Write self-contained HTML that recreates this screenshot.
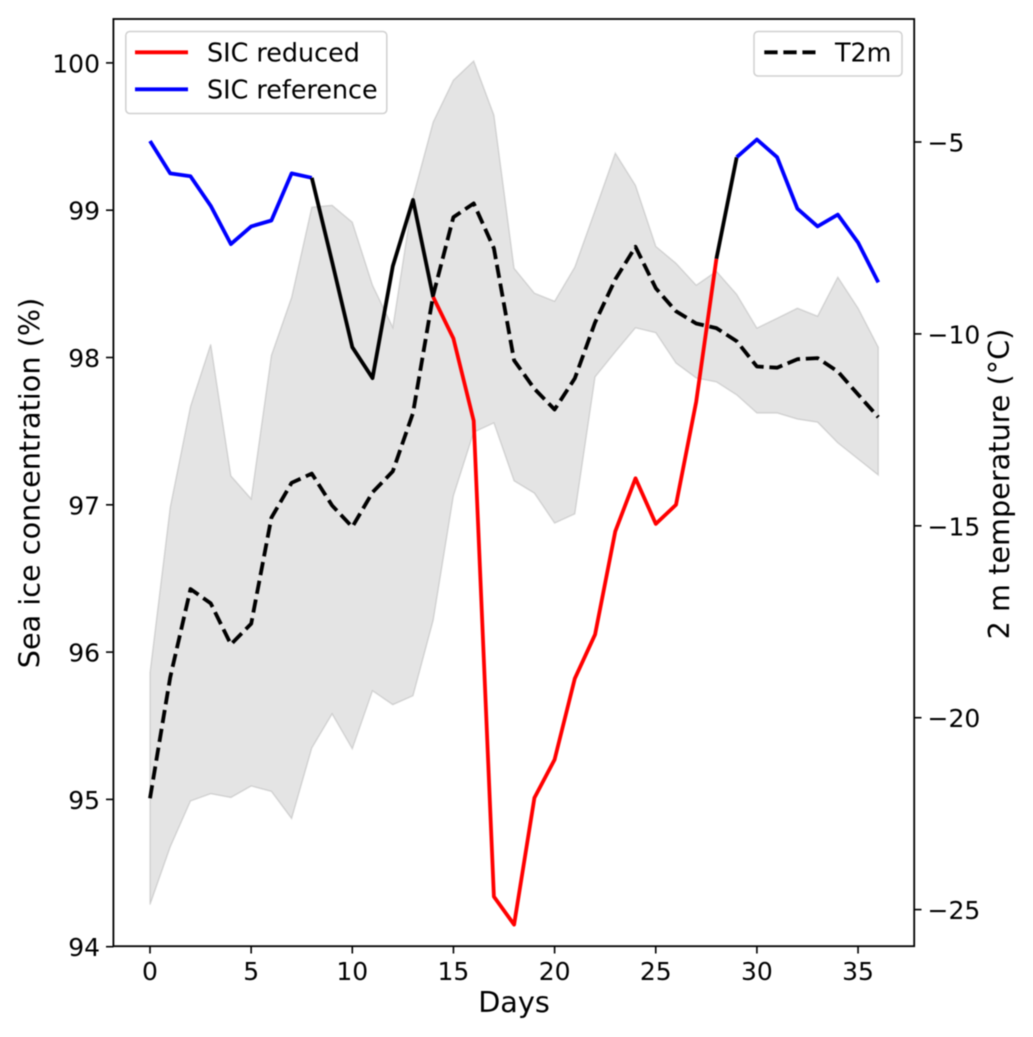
<!DOCTYPE html>
<html>
<head>
<meta charset="utf-8">
<title>Sea ice concentration and 2 m temperature</title>
<style>
html,body{margin:0;padding:0;background:#fff;width:1033px;height:1037px;overflow:hidden}
svg{display:block;font-family:"DejaVu Sans","Liberation Sans",sans-serif;fill:#000;filter:blur(0.4px)}
</style>
</head>
<body>
<svg id="chart" xmlns="http://www.w3.org/2000/svg" width="1033" height="1037" viewBox="0 0 1033 1037">
  <rect x="0" y="0" width="1033" height="1037" fill="#fff"/>
  <g id="band-layer"></g>
  <g id="sic-layer"></g>
  <g id="t2m-layer"></g>
  <g id="tick-layer"></g>
  <rect x="113.4" y="19" width="800.8" height="927.2" fill="none" stroke="#000" stroke-width="1.8"/>
  <text x="514" y="1012" font-size="28.7" text-anchor="middle">Days</text>
  <text transform="translate(39.5,483) rotate(-90)" font-size="28.7" text-anchor="middle">Sea ice concentration (%)</text>
  <text transform="translate(1009,484) rotate(-90)" font-size="28.7" text-anchor="middle">2 m temperature (°C)</text>
  <g>
    <rect x="125.8" y="31.5" width="261" height="82" rx="4" fill="#fff" fill-opacity="0.8" stroke="#d0d0d0" stroke-width="1.5"/>
    <line x1="135" y1="52.3" x2="188" y2="52.3" stroke="#ff0000" stroke-width="3.8"/>
    <text x="207" y="61.5" font-size="25.4">SIC reduced</text>
    <line x1="135" y1="89.3" x2="188" y2="89.3" stroke="#0000ff" stroke-width="3.8"/>
    <text x="207" y="98.3" font-size="25.4">SIC reference</text>
  </g>
  <g>
    <rect x="754" y="31.5" width="148" height="44.5" rx="4" fill="#fff" fill-opacity="0.8" stroke="#d0d0d0" stroke-width="1.5"/>
    <line x1="764.3" y1="52.3" x2="815.5" y2="52.3" stroke="#000" stroke-width="3.8" stroke-dasharray="13.3 5.76"/>
    <text x="835" y="61.5" font-size="25.4">T2m</text>
  </g>
</svg>
<script>
const days = [0,1,2,3,4,5,6,7,8,9,10,11,12,13,14,15,16,17,18,19,20,21,22,23,24,25,26,27,28,29,30,31,32,33,34,35,36];
const sicValues = [99.47,99.25,99.23,99.03,98.77,98.89,98.93,99.25,99.22,98.65,98.07,97.86,98.62,99.07,98.41,98.13,97.57,94.34,94.15,95.01,95.27,95.82,96.12,96.82,97.18,96.87,97.0,97.7,98.67,99.36,99.48,99.36,99.01,98.89,98.97,98.78,98.51];
const t2mValues = [-22.1,-18.95,-16.65,-17.02,-18.09,-17.55,-14.79,-13.88,-13.64,-14.47,-15.03,-14.13,-13.58,-12.06,-8.99,-6.96,-6.6,-7.77,-10.69,-11.43,-11.97,-11.16,-9.7,-8.58,-7.73,-8.81,-9.41,-9.73,-9.85,-10.19,-10.85,-10.88,-10.66,-10.63,-10.98,-11.58,-12.17];
const t2mUpper = [-18.83,-14.52,-11.89,-10.27,-13.7,-14.3,-10.56,-9.05,-6.7,-6.65,-7.09,-8.73,-9.83,-6.44,-4.48,-3.39,-2.89,-4.3,-8.29,-8.94,-9.15,-8.26,-6.78,-5.29,-6.13,-7.72,-8.16,-8.73,-8.37,-8.97,-9.85,-9.59,-9.33,-9.54,-8.52,-9.33,-10.35];
const t2mLower = [-24.87,-23.37,-22.17,-21.98,-22.08,-21.78,-21.92,-22.63,-20.79,-19.9,-20.81,-19.3,-19.66,-19.43,-17.46,-14.22,-12.56,-12.32,-13.83,-14.15,-14.93,-14.69,-11.12,-10.47,-9.84,-9.97,-10.76,-11.15,-11.25,-11.59,-12.06,-12.06,-12.22,-12.3,-12.84,-13.26,-13.68];
const xTicks = [0,5,10,15,20,25,30,35];
const leftTicks = [94,95,96,97,98,99,100];
const rightTicks = [-25,-20,-15,-10,-5];
const sicSegments = [
  {name:'sic-reference-start', color:'#0000ff', from:0, to:8},
  {name:'sic-transition-down', color:'#000000', from:8, to:14},
  {name:'sic-reduced', color:'#ff0000', from:14, to:28},
  {name:'sic-transition-up', color:'#000000', from:28, to:29},
  {name:'sic-reference-end', color:'#0000ff', from:29, to:36}
];

const NS = 'http://www.w3.org/2000/svg';
function xAxis(d){ return 150 + d * 20.23; }
function leftAxis(v){ return 946.7 - (v - 94) * 147.3; }
function rightAxis(v){ return 142 + (-5 - v) * 38.38; }
function fmt(v){ return String(v).replace('-', '\u2212'); }
function make(tag, attrs, parent){
  const el = document.createElementNS(NS, tag);
  for (const k in attrs) el.setAttribute(k, attrs[k]);
  parent.appendChild(el);
  return el;
}
const bandLayer = document.getElementById('band-layer');
const sicLayer = document.getElementById('sic-layer');
const t2mLayer = document.getElementById('t2m-layer');
const tickLayer = document.getElementById('tick-layer');

const upperPts = days.map((d,i) => xAxis(d).toFixed(1) + ',' + rightAxis(t2mUpper[i]).toFixed(1));
const lowerPts = days.map((d,i) => xAxis(d).toFixed(1) + ',' + rightAxis(t2mLower[i]).toFixed(1)).reverse();
const band = make('polygon', {points: upperPts.concat(lowerPts).join(' '), fill:'#000', 'fill-opacity':'0.105', stroke:'#000', 'stroke-opacity':'0.12', 'stroke-width':'1.4'}, bandLayer);



sicSegments.forEach(function(seg){
  const pts = [];
  for (let i = seg.from; i <= seg.to; i++) pts.push(xAxis(days[i]).toFixed(1) + ',' + leftAxis(sicValues[i]).toFixed(1));
  const line = make('polyline', {points: pts.join(' '), fill:'none', stroke:seg.color, 'stroke-width':'3.8', 'stroke-linejoin':'round', 'stroke-linecap':'butt'}, sicLayer);
  
  
});

const t2mLine = make('polyline', {
  points: days.map((d,i) => xAxis(d).toFixed(1) + ',' + rightAxis(t2mValues[i]).toFixed(1)).join(' '),
  fill:'none', stroke:'#000', 'stroke-width':'3.8', 'stroke-dasharray':'13.3 5.76', 'stroke-linejoin':'round'
}, t2mLayer);



xTicks.forEach(function(t){
  const x = xAxis(t);
  const tick = make('line', {x1:x, x2:x, y1:946, y2:953.5, stroke:'#000', 'stroke-width':'1.6'}, tickLayer);
  
  
  const label = make('text', {x:x, y:980, 'font-size':'25', 'text-anchor':'middle'}, tickLayer);
  label.textContent = fmt(t);
  
  
});
leftTicks.forEach(function(t){
  const y = leftAxis(t);
  const tick = make('line', {x1:106, x2:113.5, y1:y, y2:y, stroke:'#000', 'stroke-width':'1.6'}, tickLayer);
  
  
  const label = make('text', {x:100, y:y + 9.5, 'font-size':'25', 'text-anchor':'end'}, tickLayer);
  label.textContent = fmt(t);
  
  
});
rightTicks.forEach(function(t){
  const y = rightAxis(t);
  const tick = make('line', {x1:914, x2:921.5, y1:y, y2:y, stroke:'#000', 'stroke-width':'1.6'}, tickLayer);
  
  
  const label = make('text', {x:927.5, y:y + 9.5, 'font-size':'25', 'text-anchor':'start'}, tickLayer);
  label.textContent = fmt(t);
  
  
});
</script>
</body>
</html>
